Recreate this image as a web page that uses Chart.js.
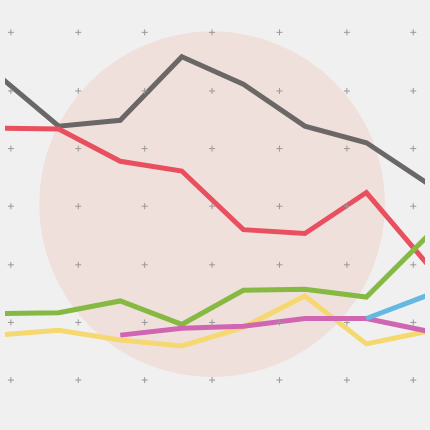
<!DOCTYPE html>
<html lang="en">
<head>
<meta charset="UTF-8">
<title>Lines</title>
<script src="https://cdn.jsdelivr.net/npm/chart.js"></script>
<style>
  html, body { margin: 0; padding: 0; background: #f0f0f0; }
  #wrap { width: 430px; height: 430px; }
</style>
</head>
<body>
<div id="wrap"><canvas id="c"></canvas></div>
<script>
const steps = [0, 1, 2, 3, 4, 5, 6, 7];
const gray   = [71, 124, 118, 53, 81, 124, 141, 183];
const red    = [126, 127, 160, 170, 230, 234, 192, 266];
const green  = [316, 315, 303, 327, 292, 291, 299, 236];
const yellow = [338, 333, 343, 349, 330, 298, 347, 334];
const pink   = [null, null, 338, 331, 329, 321, 321, 334];
const blue   = [null, null, null, null, null, null, 321, 297];
const markX = [6, 75, 143, 212, 281, 350, 418];
const markY = [28, 88, 147, 206, 266, 325, 384];

function series(vals) {
    return vals.map((v, i) => ({ x: steps[i], y: v }));
}
const marks = [];
markY.forEach(y => markX.forEach(x => marks.push({ x: x, y: y })));

const circlePlugin = {
    id: 'circle',
    beforeDatasetsDraw(chart) {
        const ctx = chart.ctx;
        const px = chart.scales.xp, py = chart.scales.y;
        ctx.save();
        ctx.fillStyle = '#f0e0dc';
        ctx.beginPath();
        ctx.arc(px.getPixelForValue(212), py.getPixelForValue(204),
                px.getPixelForValue(177) - px.getPixelForValue(0), 0, Math.PI * 2);
        ctx.fill();
        ctx.restore();
    }
};

function line(data, color) {
    return { type: 'line', data: series(data), borderColor: color, borderWidth: 5,
             pointRadius: 0, tension: 0, fill: false, spanGaps: false, xAxisID: 'x' };
}

new Chart(document.getElementById('c'), {
    data: {
        datasets: [
            { type: 'scatter', data: marks, xAxisID: 'xp', pointStyle: 'cross',
              pointRadius: 3, borderColor: '#999', borderWidth: 1 },
            line(blue, '#64b9e3'),
            line(pink, '#d065b2'),
            line(yellow, '#f5d870'),
            line(green, '#85b941'),
            line(red, '#e8505f'),
            line(gray, '#6b6767')
        ]
    },
    options: {
        responsive: true,
        maintainAspectRatio: false,
        animation: false,
        layout: { padding: 0 },
        plugins: { legend: { display: false }, tooltip: { enabled: false } },
        scales: {
            x: { type: 'linear', display: false, min: 8 / 63, max: 438 / 63 },
            xp: { type: 'linear', display: false, min: 0, max: 430 },
            y: { type: 'linear', display: false, min: 0, max: 430, reverse: true }
        }
    },
    plugins: [circlePlugin]
});
</script>
</body>
</html>
